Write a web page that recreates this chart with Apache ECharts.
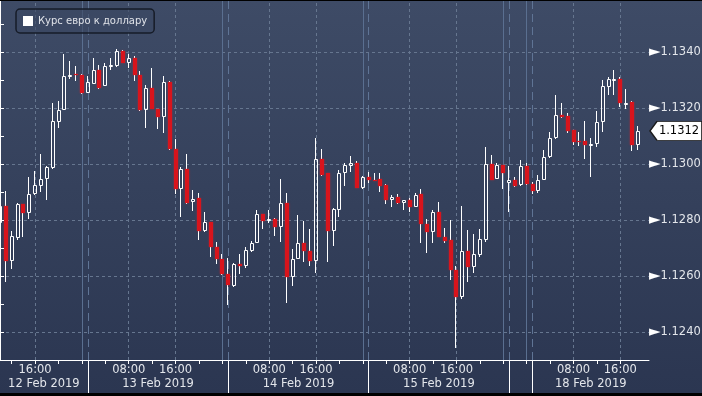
<!DOCTYPE html>
<html><head><meta charset="utf-8">
<script src="https://cdn.jsdelivr.net/npm/echarts@6/dist/echarts.min.js"></script>
<style>
html,body{margin:0;padding:0;background:#000;width:702px;height:396px;overflow:hidden;}
#c{position:absolute;left:0;top:1px;width:702px;height:392px;background:linear-gradient(to bottom,#3e4b66 0%,#2b3651 100%);}
</style>
</head><body><div id="c"></div>
<script>
const seriesName = 'Курс евро к доллару';

const times = [
'12.02 10:00','12.02 11:00','12.02 12:00','12.02 13:00','12.02 14:00','12.02 15:00','12.02 16:00','12.02 17:00','12.02 18:00','12.02 19:00','12.02 20:00','12.02 21:00','12.02 22:00','12.02 23:00',
'13.02 00:00','13.02 01:00','13.02 02:00','13.02 03:00','13.02 04:00','13.02 05:00','13.02 06:00','13.02 07:00','13.02 08:00','13.02 09:00','13.02 10:00','13.02 11:00','13.02 12:00','13.02 13:00','13.02 14:00','13.02 15:00','13.02 16:00','13.02 17:00','13.02 18:00','13.02 19:00','13.02 20:00','13.02 21:00','13.02 22:00','13.02 23:00',
'14.02 00:00','14.02 01:00','14.02 02:00','14.02 03:00','14.02 04:00','14.02 05:00','14.02 06:00','14.02 07:00','14.02 08:00','14.02 09:00','14.02 10:00','14.02 11:00','14.02 12:00','14.02 13:00','14.02 14:00','14.02 15:00','14.02 16:00','14.02 17:00','14.02 18:00','14.02 19:00','14.02 20:00','14.02 21:00','14.02 22:00','14.02 23:00',
'15.02 00:00','15.02 01:00','15.02 02:00','15.02 03:00','15.02 04:00','15.02 05:00','15.02 06:00','15.02 07:00','15.02 08:00','15.02 09:00','15.02 10:00','15.02 11:00','15.02 12:00','15.02 13:00','15.02 14:00','15.02 15:00','15.02 16:00','15.02 17:00','15.02 18:00','15.02 19:00','15.02 20:00','15.02 21:00','15.02 22:00','15.02 23:00',
'16.02 00:00',
'17.02 21:00','17.02 22:00','17.02 23:00',
'18.02 00:00','18.02 01:00','18.02 02:00','18.02 03:00','18.02 04:00','18.02 05:00','18.02 06:00','18.02 07:00','18.02 08:00','18.02 09:00','18.02 10:00','18.02 11:00','18.02 12:00','18.02 13:00','18.02 14:00','18.02 15:00','18.02 16:00','18.02 17:00','18.02 18:00','18.02 19:00'
];

const open = [
1.12792,1.12851,1.12656,1.12736,1.12858,1.12827,1.12896,1.12924,1.12950,1.12989,
1.13152,1.13196,1.13315,1.13322,1.13320,1.13256,1.13289,1.13337,1.13281,1.13349,
1.13352,1.13405,1.13363,1.13379,1.13321,1.13196,1.13275,1.13199,1.13168,1.13293,
1.13056,1.12914,1.12983,1.12867,1.12879,1.12763,1.12793,1.12704,1.12664,1.12608,
1.12567,1.12646,1.12638,1.12692,1.12720,1.12823,1.12799,1.12804,1.12777,1.12861,
1.12598,1.12664,1.12718,1.12692,1.12656,1.13021,1.12968,1.12763,1.12839,1.12968,
1.12995,1.13007,1.12917,1.12954,1.12946,1.12948,1.12926,1.12873,1.12885,1.12863,
1.12873,1.12849,1.12894,1.12789,1.12760,1.12831,1.12742,1.12729,1.12625,1.12527,
1.12690,1.12635,1.12676,1.12730,1.13001,1.12949,1.12998,1.12935,1.12944,1.12927,
1.12994,1.12929,1.12906,1.12946,1.13027,1.13093,1.13176,1.13173,1.13123,1.13085,
1.13083,1.13070,1.13075,1.13152,1.13277,1.13304,1.13307,1.13218,1.13224,1.13069
];
const close = [
1.12851,1.12656,1.12744,1.12858,1.12826,1.12896,1.12926,1.12950,1.12990,1.13157,
1.13196,1.13315,1.13320,1.13320,1.13256,1.13293,1.13337,1.13275,1.13351,1.13357,
1.13405,1.13364,1.13379,1.13321,1.13194,1.13275,1.13199,1.13168,1.13293,1.13054,
1.12914,1.12983,1.12864,1.12876,1.12763,1.12793,1.12704,1.12664,1.12608,1.12568,
1.12646,1.12639,1.12694,1.12721,1.12823,1.12799,1.12805,1.12777,1.12861,1.12598,
1.12664,1.12718,1.12692,1.12656,1.13021,1.12964,1.12763,1.12840,1.12968,1.12999,
1.13007,1.12917,1.12954,1.12945,1.12944,1.12924,1.12874,1.12885,1.12863,1.12873,
1.12849,1.12890,1.12789,1.12760,1.12831,1.12742,1.12726,1.12625,1.12527,1.12690,
1.12635,1.12679,1.12733,1.13001,1.12946,1.12998,1.12971,1.12944,1.12924,1.12994,
1.12929,1.12906,1.12946,1.13027,1.13093,1.13176,1.13168,1.13120,1.13081,1.13081,
1.13069,1.13075,1.13152,1.13280,1.13304,1.13307,1.13218,1.13221,1.13069,1.13120
];
const low = [
1.12777,1.12581,1.12626,1.12730,1.12742,1.12805,1.12890,1.12902,1.12874,1.12985,
1.13131,1.13194,1.13305,1.13299,1.13253,1.13255,1.13286,1.13271,1.13280,1.13339,
1.13350,1.13362,1.13345,1.13299,1.13190,1.13131,1.13197,1.13127,1.13113,1.13051,
1.12894,1.12813,1.12858,1.12835,1.12730,1.12760,1.12669,1.12646,1.12605,1.12500,
1.12563,1.12608,1.12629,1.12688,1.12718,1.12770,1.12790,1.12744,1.12724,1.12504,
1.12567,1.12662,1.12652,1.12637,1.12613,1.12960,1.12652,1.12708,1.12811,1.12924,
1.12974,1.12915,1.12912,1.12935,1.12942,1.12902,1.12858,1.12849,1.12860,1.12837,
1.12831,1.12848,1.12718,1.12685,1.12720,1.12740,1.12720,1.12587,1.12346,1.12521,
1.12581,1.12613,1.12670,1.12724,1.12944,1.12947,1.12911,1.12831,1.12918,1.12925,
1.12926,1.12894,1.12899,1.12944,1.13025,1.13090,1.13166,1.13111,1.13069,1.13065,
1.13019,1.12954,1.13061,1.13117,1.13248,1.13248,1.13206,1.13200,1.13049,1.13051
];
const high = [
1.12879,1.12905,1.12762,1.12864,1.12860,1.12956,1.12976,1.13037,1.12996,1.13220,
1.13226,1.13396,1.13369,1.13351,1.13325,1.13315,1.13382,1.13355,1.13363,1.13382,
1.13414,1.13408,1.13396,1.13387,1.13333,1.13283,1.13343,1.13200,1.13315,1.13299,
1.13090,1.12990,1.13039,1.12908,1.12900,1.12830,1.12795,1.12723,1.12680,1.12667,
1.12650,1.12682,1.12704,1.12726,1.12837,1.12825,1.12837,1.12808,1.12950,1.12900,
1.12700,1.12819,1.12799,1.12769,1.13096,1.13057,1.12970,1.12844,1.12982,1.13006,
1.13030,1.13013,1.12958,1.12974,1.12970,1.12970,1.12932,1.12890,1.12896,1.12875,
1.12882,1.12899,1.12914,1.12807,1.12839,1.12867,1.12775,1.12801,1.12637,1.12851,
1.12765,1.12751,1.12771,1.13063,1.13033,1.13006,1.13000,1.12994,1.12954,1.13015,
1.13004,1.12938,1.12962,1.13051,1.13117,1.13250,1.13220,1.13185,1.13125,1.13117,
1.13155,1.13093,1.13192,1.13301,1.13313,1.13339,1.13311,1.13271,1.13227,1.13137
];

const yTickLabels = ['1.1240','1.1260','1.1280','1.1300','1.1320','1.1340'];
const yMinorTicks = ['1.1230','1.1250','1.1270','1.1290','1.1310','1.1330','1.1350'];
const hourLabelHours = [8, 16];
const dayLabels = ['12 Feb 2019','13 Feb 2019','14 Feb 2019','15 Feb 2019','','18 Feb 2019'];

const FONT = 'DejaVu Sans';
const LABEL_COLOR = '#e3e6eb';
const X_MIN = 0, X_MAX = 110.9;
const Y_MAX = 1.1358393, Y_MIN = 1.1230179;

const hourOf = t => parseInt(t.slice(6, 8), 10);
const idxWhere = f => times.map((t, i) => f(t, i) ? i : -1).filter(i => i >= 0);
const tickIdx = idxWhere(t => hourOf(t) % 4 === 0);
const labelIdx = idxWhere(t => hourLabelHours.indexOf(hourOf(t)) >= 0);
const midnightIdx = idxWhere(t => hourOf(t) === 0);
const sepIdx = midnightIdx.map(i => i + 1);
const bounds = [X_MIN].concat(sepIdx, [X_MAX]);
const dayCenters = [];
for (let k = 0; k < bounds.length - 1; k++) {
  if (dayLabels[k]) dayCenters.push({ v: (bounds[k] + bounds[k + 1]) / 2, label: dayLabels[k] });
}
const candleData = times.map((t, i) => [i, open[i], close[i], low[i], high[i]]);
const lastClose = close[close.length - 1];
const yMajor = yTickLabels.map(parseFloat);
const yAllTicks = yMajor.concat(yMinorTicks.map(parseFloat)).sort((a, b) => a - b);

const gridLine = { color: '#66768f', type: [3, 3], width: 1 };
const dayLine = { color: '#5a6f90', type: 'solid', width: 1 };
const sepLine = { color: '#5f7495', type: [8, 5], width: 1 };

const chart = echarts.init(document.getElementById('c'), null, { renderer: 'canvas' });
const baseX = { type: 'value', min: X_MIN, max: X_MAX, position: 'bottom', gridIndex: 0, splitLine: { show: false }, z: 4 };

chart.setOption({
  animation: false,
  backgroundColor: 'transparent',
  textStyle: { fontFamily: FONT },
  grid: { left: 0, right: 53, top: 0, bottom: 33, containLabel: false, outerBoundsMode: 'none' },
  legend: {
    data: [seriesName], left: 16, top: 8, padding: [7, 7, 7, 7],
    itemWidth: 10, itemHeight: 10, icon: 'rect', selectedMode: false,
    backgroundColor: 'rgba(58,71,98,0.6)', borderColor: '#161c28', borderWidth: 1.5, borderRadius: 4,
    itemStyle: { color: '#ffffff', borderWidth: 0 },
    textStyle: { color: '#dfe2e8', fontFamily: FONT, fontSize: 10 }
  },
  xAxis: [
    Object.assign({}, baseX, {
      axisLine: { show: true, lineStyle: { color: '#ffffff', width: 1 } },
      axisTick: { show: true, customValues: tickIdx, length: 4, lineStyle: { color: '#ffffff' } },
      axisLabel: { show: true, customValues: labelIdx, margin: 4, color: LABEL_COLOR, fontFamily: FONT, fontSize: 11.5,
        formatter: v => times[Math.round(v)].slice(6) }
    }),
    Object.assign({}, baseX, {
      axisLine: { show: false }, axisTick: { show: false },
      axisLabel: { show: true, customValues: dayCenters.map(d => d.v), margin: 18, color: LABEL_COLOR, fontFamily: FONT, fontSize: 11.5,
        formatter: v => { const d = dayCenters.find(d => Math.abs(d.v - v) < 0.01); return d ? d.label : ''; } }
    }),
    Object.assign({}, baseX, {
      axisLine: { show: false },
      axisTick: { show: true, customValues: sepIdx, length: 33, lineStyle: { color: '#ffffff' } },
      axisLabel: { show: false }
    })
  ],
  yAxis: {
    type: 'value', position: 'right', min: Y_MIN, max: Y_MAX, z: 4,
    axisLine: { show: true, lineStyle: { color: '#ffffff', width: 1 } },
    axisTick: { show: true, customValues: yAllTicks, length: 4, lineStyle: { color: '#ffffff' } },
    splitLine: { show: false },
    axisLabel: {
      margin: 0, customValues: yMajor,
      formatter: v => '{t|►}{v|' + v.toFixed(4) + '}',
      rich: {
        t: { fontSize: 15, color: '#ffffff', fontFamily: FONT },
        v: { fontSize: 11.5, color: LABEL_COLOR, fontFamily: FONT }
      }
    }
  },
  series: [
    {
      type: 'line', name: 'grid', data: [], xAxisIndex: 0, yAxisIndex: 0, z: 1, silent: true,
      markLine: {
        silent: true, z: 1, precision: 6, symbol: ['none', 'none'], animation: false, label: { show: false },
        data: [].concat(
          yMajor.map(v => ({ yAxis: v, lineStyle: gridLine })),
          labelIdx.map(i => ({ xAxis: i, lineStyle: gridLine })),
          midnightIdx.map(i => ({ xAxis: i, lineStyle: dayLine })),
          sepIdx.map(i => ({ xAxis: i, lineStyle: sepLine }))
        )
      },
      markPoint: {
        silent: true, z: 6, animation: false,
        symbol: 'path://M0,9.5L7,0L52,0L52,19L7,19Z', symbolSize: [52, 19], symbolOffset: [27, 0], symbolKeepAspect: false,
        itemStyle: { color: '#ffffff', borderColor: '#1c1c1c', borderWidth: 1 },
        label: { show: true, position: 'inside', offset: [3, 0], color: '#000000', fontFamily: FONT, fontSize: 11.5,
          formatter: () => lastClose.toFixed(4) },
        data: [{ coord: [X_MAX, lastClose], value: lastClose }]
      }
    },
    {
      type: 'custom', name: seriesName, xAxisIndex: 0, yAxisIndex: 0, z: 3, clip: true,
      itemStyle: { color: '#ffffff' },
      encode: { x: 0, y: [1, 2, 3, 4] },
      data: candleData,
      renderItem: (params, api) => {
        const i = api.value(0), o = api.value(1), c = api.value(2), l = api.value(3), h = api.value(4);
        const po = api.coord([i, o]), pc = api.coord([i, c]);
        const yl = api.coord([i, l])[1], yh = api.coord([i, h])[1];
        const col = Math.round(po[0]);
        let top = Math.round(Math.min(po[1], pc[1])), bot = Math.round(Math.max(po[1], pc[1]));
        const up = c >= o;
        if (bot - top < (up ? 2 : 1)) bot = top + (up ? 2 : 1);
        const wx = col - 0.5;
        const ls = { stroke: '#ffffff', lineWidth: 1 };
        const children = [];
        if (Math.round(yh) < top) children.push({ type: 'line', shape: { x1: wx, y1: Math.round(yh), x2: wx, y2: top }, style: ls });
        if (Math.round(yl) > bot) children.push({ type: 'line', shape: { x1: wx, y1: bot, x2: wx, y2: Math.round(yl) }, style: ls });
        if (up) {
          children.push({ type: 'rect', shape: { x: col - 1.5, y: top + 0.5, width: 3, height: bot - top - 1 },
            style: { fill: 'none', stroke: '#ffffff', lineWidth: 1 } });
        } else {
          children.push({ type: 'rect', shape: { x: col - 2, y: top, width: 4, height: bot - top },
            style: { fill: '#d8141c', shadowBlur: 2, shadowColor: 'rgba(235,30,40,0.7)' } });
        }
        return { type: 'group', children: children };
      }
    }
  ]
});
</script>
</body></html>
